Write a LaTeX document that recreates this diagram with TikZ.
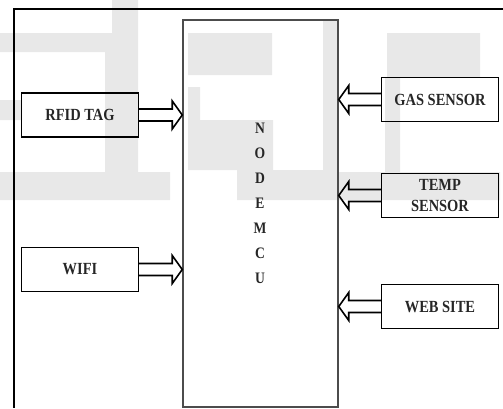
\documentclass[tikz,border=0pt]{standalone}
\usepackage{fontspec}
\setmainfont{Liberation Serif}[FakeStretch=0.85]
\usetikzlibrary{arrows.meta,calc}

\begin{document}
\begin{tikzpicture}[x=1pt,y=-1pt,line width=1.3pt,
  blk/.style={draw,minimum width=117pt,minimum height=44pt,inner sep=0pt,align=center,text=black!85,font=\fontsize{17}{21}\selectfont\bfseries},
  fat/.style={line width=1.6pt,to path={let \p1=(\tikztostart),\p2=(\tikztotarget),\n1={sign(\x2-\x1)} in
    (\x1,\y1+6pt) -- (\x2-10pt*\n1,\y1+6pt) -- (\x2-10pt*\n1,\y1+14pt) -- (\x2,\y1)
    -- (\x2-10pt*\n1,\y1-14pt) -- (\x2-10pt*\n1,\y1-6pt) -- (\x1,\y1-6pt)}}]
\useasboundingbox (0,0) rectangle (503,408);
% faint logo in the back
\fill[black!9] (0,33) rectangle (125,52) (112,0) rectangle (138,52) (105,52) rectangle (138,172)
  (0,100) rectangle (22,120) (0,172) rectangle (170,200)
  (188,33) rectangle (272,75) (323,20) rectangle (337,170) (188,87) rectangle (200,120)
  (188,120) rectangle (273,170) (237,170) rectangle (337,200)
  (387,33) rectangle (480,77) (385,77) rectangle (400,172) (338,172) rectangle (500,200);
\draw[line width=1.5pt] (503,9) -- (14,9) -- (14,408);

\node[draw=black!70,line width=1.5pt,minimum width=155pt,minimum height=387pt] (mcu) at (260.5,213.5) {};
\node[text=black!85,align=center,font=\fontsize{16}{25}\selectfont\bfseries] (mcutxt) at (260,203) {N\\O\\D\\E\\M\\C\\U};

\node[blk] (rfid) at (80,115) {RFID TAG};
\node[blk] (wifi) at (80,269.5) {WIFI};
\node[blk] (gas) at (440,99.5) {GAS SENSOR};
\node[blk] (temp) at (440,195.5) {TEMP\\SENSOR};
\node[blk] (web) at (440,306.5) {WEB SITE};

\draw[fat] (rfid.east) to (rfid.east -| mcu.west);
\draw[fat] (wifi.east) to (wifi.east -| mcu.west);
\draw[fat] (gas.west) to (gas.west -| mcu.east);
\draw[fat] (temp.west) to (temp.west -| mcu.east);
\draw[fat] (web.west) to (web.west -| mcu.east);
\end{tikzpicture}
\end{document}
